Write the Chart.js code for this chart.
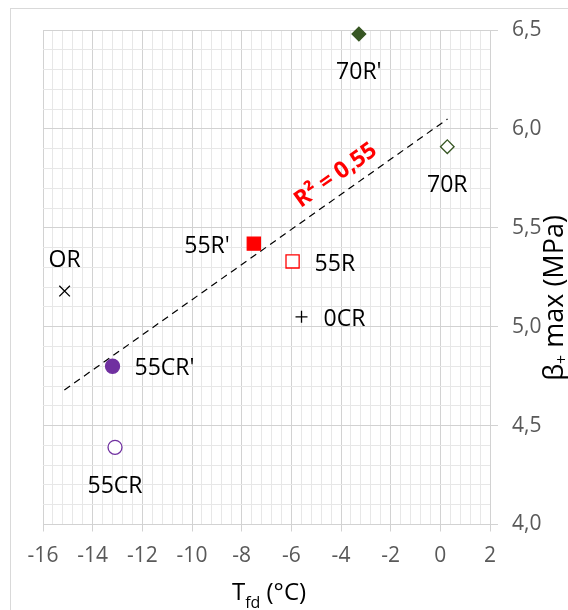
<!DOCTYPE html>
<html>
<head>
<meta charset="utf-8">
<script src="https://cdn.jsdelivr.net/npm/chart.js@4.4.1/dist/chart.umd.min.js"></script>
<style>
  html, body { margin: 0; padding: 0; background: #fff; }
  canvas { display: block; }
</style>
</head>
<body>
<canvas id="chart" width="568" height="610"></canvas>
<script>
// datos
const names = ["OR", "55CR'", "55CR", "55R'", "55R", "0CR", "70R'", "70R"];
const tfd = [-15.13, -13.20, -13.10, -7.51, -5.95, -5.59, -3.28, 0.28];
const betaMax = [5.18, 4.80, 4.39, 5.42, 5.33, 5.05, 6.48, 5.91];

// linea de tendencia (extremos)
const trendX = [-15.14, 0.29];
const trendY = [4.68, 6.05];
const r2Text = 'R² = 0,55';

// ejes
const xTicks = [-16, -14, -12, -10, -8, -6, -4, -2, 0, 2];
const xTickLabels = ['-16', '-14', '-12', '-10', '-8', '-6', '-4', '-2', '0', '2'];
const yTicks = [4.0, 4.5, 5.0, 5.5, 6.0, 6.5];
const yTickLabels = ['4,0', '4,5', '5,0', '5,5', '6,0', '6,5'];
const xSubdiv = 5;
const ySubdiv = 5;

// estilo de cada marcador
const markerStyle = ['crossRot', 'circle', 'circle', 'rect', 'rect', 'cross', 'rectRot', 'rectRot'];
const markerFill = ['#000', '#7030a0', '#fff', '#ff0000', '#fff', '#000', '#375623', '#fff'];
const markerEdge = ['#000', '#7030a0', '#7030a0', '#ff0000', '#ff0000', '#000', '#375623', '#375623'];
const markerRadius = [7.5, 7, 7, 9.3, 9.3, 6, 6.8, 6.8];
const labelSide = ['above', 'right', 'below', 'left', 'right', 'right', 'below', 'below'];

const FONT = "'Open Sans', 'Liberation Sans', sans-serif";
const GRID_MAJOR = '#d2d2d2';
const GRID_MINOR = '#e7e7e7';

// ticks mayores + menores (para la rejilla secundaria)
function buildTicks(majors, labels, n) {
    const out = [];
    majors.forEach((m, i) => {
        out.push({ value: m, isMajor: true, text: labels[i] });
        if (i < majors.length - 1) {
            const step = (majors[i + 1] - m) / n;
            for (let k = 1; k < n; k++) out.push({ value: m + k * step, isMajor: false, text: '' });
        }
    });
    return out;
}

const gridOpts = (len) => ({
    color: c => (c.tick && c.tick.isMajor) ? GRID_MAJOR : GRID_MINOR,
    tickColor: c => (c.tick && c.tick.isMajor) ? GRID_MAJOR : 'rgba(0,0,0,0)',
    lineWidth: 1,
    tickLength: len
});

// marco exterior gris
const framePlugin = {
    id: 'marco',
    beforeDraw(chart) {
        const ctx = chart.ctx;
        ctx.save();
        ctx.fillStyle = '#fff';
        ctx.fillRect(0, 0, chart.width, chart.height);
        ctx.strokeStyle = '#d9d9d9';
        ctx.lineWidth = 1;
        ctx.strokeRect(10.5, 8.5, chart.width + 20, chart.height + 20);
        ctx.restore();
    }
};

// etiquetas de los puntos y R²
const labelsPlugin = {
    id: 'etiquetas',
    afterDatasetsDraw(chart) {
        const { ctx, scales: { x, y } } = chart;
        const size = 23;
        ctx.save();
        ctx.font = `${size}px ${FONT}`;
        ctx.fillStyle = '#000';
        ctx.textBaseline = 'alphabetic';
        const capHalf = size * 0.357;
        names.forEach((name, i) => {
            const px = x.getPixelForValue(tfd[i]);
            const py = y.getPixelForValue(betaMax[i]);
            let tx = px, ty = py, align = 'center';
            switch (labelSide[i]) {
                case 'above': ty = py - 32; break;
                case 'below': ty = py + 37; break;
                case 'left': tx = px - 24; ty = py + 1; align = 'right'; break;
                case 'right': tx = px + 22; ty = py + 1; align = 'left'; break;
            }
            ctx.textAlign = align;
            ctx.fillText(name, tx, ty + capHalf);
        });

        // R² rotado sobre la recta
        const x0 = x.getPixelForValue(trendX[0]), y0 = y.getPixelForValue(trendY[0]);
        const x1 = x.getPixelForValue(trendX[1]), y1 = y.getPixelForValue(trendY[1]);
        const ang = Math.atan2(y1 - y0, x1 - x0);
        const t = 0.736;
        const cx = x0 + t * (x1 - x0) + 20 * Math.sin(ang);
        const cy = y0 + t * (y1 - y0) - 20 * Math.cos(ang);
        ctx.translate(cx, cy);
        ctx.rotate(ang);
        ctx.font = `bold 23px ${FONT}`;
        ctx.fillStyle = '#ff0000';
        ctx.textAlign = 'center';
        ctx.fillText(r2Text, 0, 23 * 0.357);
        ctx.restore();
    }
};

// titulos de ejes con subindices
const titlesPlugin = {
    id: 'titulos',
    afterDraw(chart) {
        const ctx = chart.ctx;
        const big = `24px ${FONT}`, small = `16px ${FONT}`;
        ctx.save();
        ctx.fillStyle = '#000';
        ctx.textAlign = 'left';
        ctx.textBaseline = 'alphabetic';

        // eje X: T_fd (°C)
        let parts = [['T', big, 0], ['fd', small, 8], [' (°C)', big, 0]];
        let widths = parts.map(p => { ctx.font = p[1]; return ctx.measureText(p[0]).width; });
        let total = widths.reduce((a, b) => a + b, 0);
        let px = 269 - total / 2;
        parts.forEach((p, i) => {
            ctx.font = p[1];
            ctx.fillText(p[0], px, 600 + p[2]);
            px += widths[i];
        });

        // eje Y: β+ max (MPa), girado
        const bigY = `27px ${FONT}`, smallY = `16px ${FONT}`;
        parts = [['β', bigY, 0], ['+', smallY, 4], [' max (MPa)', bigY, 0]];
        widths = parts.map(p => { ctx.font = p[1]; return ctx.measureText(p[0]).width; });
        total = widths.reduce((a, b) => a + b, 0);
        ctx.translate(563, 298);
        ctx.rotate(-Math.PI / 2);
        px = -total / 2;
        parts.forEach((p, i) => {
            ctx.font = p[1];
            ctx.fillText(p[0], px, p[2]);
            px += widths[i];
        });
        ctx.restore();
    }
};

const ctx = document.getElementById('chart');

new Chart(ctx, {
    type: 'scatter',
    data: {
        datasets: [
            {
                label: 'ensayos',
                data: tfd.map((v, i) => ({ x: v, y: betaMax[i] })),
                pointStyle: markerStyle,
                pointRadius: markerRadius,
                pointHoverRadius: markerRadius,
                pointBackgroundColor: markerFill,
                pointBorderColor: markerEdge,
                pointBorderWidth: 1.3,
                showLine: false,
                clip: false
            },
            {
                label: 'tendencia',
                data: trendX.map((v, i) => ({ x: v, y: trendY[i] })),
                showLine: true,
                borderColor: '#000',
                borderWidth: 1.2,
                borderDash: [7, 5],
                pointRadius: 0,
                pointHoverRadius: 0,
                fill: false
            }
        ]
    },
    options: {
        responsive: false,
        animation: false,
        events: [],
        layout: { padding: { left: 43, top: 30, right: 0, bottom: 0 } },
        plugins: {
            legend: { display: false },
            tooltip: { enabled: false }
        },
        scales: {
            x: {
                type: 'linear',
                min: xTicks[0],
                max: xTicks[xTicks.length - 1],
                afterBuildTicks: s => { s.ticks = buildTicks(xTicks, xTickLabels, xSubdiv); },
                afterFit: s => { s.height = 85.5; },
                ticks: {
                    autoSkip: false,
                    maxRotation: 0,
                    minRotation: 0,
                    padding: 12,
                    color: '#595959',
                    font: { family: FONT, size: 21 },
                    callback: (v, i, t) => t[i].text
                },
                grid: gridOpts(7),
                border: { color: GRID_MAJOR }
            },
            y: {
                type: 'linear',
                position: 'right',
                min: yTicks[0],
                max: yTicks[yTicks.length - 1],
                afterBuildTicks: s => { s.ticks = buildTicks(yTicks, yTickLabels, ySubdiv); },
                afterFit: s => { s.width = 78; },
                ticks: {
                    autoSkip: false,
                    padding: 14,
                    color: '#595959',
                    font: { family: FONT, size: 21 },
                    callback: (v, i, t) => t[i].text
                },
                grid: gridOpts(8),
                border: { color: GRID_MAJOR }
            }
        }
    },
    plugins: [framePlugin, labelsPlugin, titlesPlugin]
});
</script>
</body>
</html>
